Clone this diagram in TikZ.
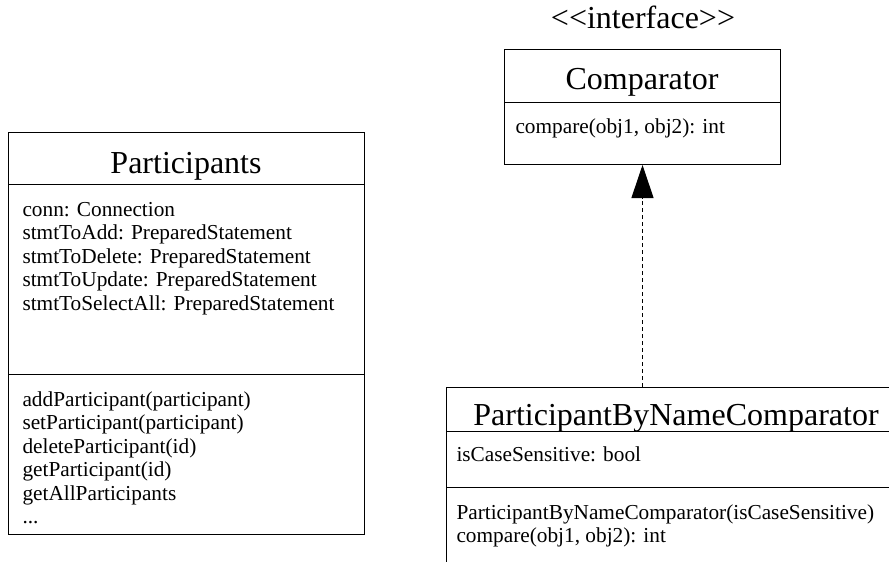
\documentclass[tikz,border=0pt]{standalone}
\usepackage{fontspec}
\setmainfont{Liberation Serif}
\usetikzlibrary{arrows.meta}
\tikzset{realize/.style = {dash pattern=on 4pt off 3pt, -{Triangle[length=33pt,width=22pt]}}}

\begin{document}
\begin{tikzpicture}[x=1pt,y=-1pt,line width=1pt,
  classbox/.style={draw,anchor=north west,inner sep=0pt},
  classname/.style={font=\fontsize{32}{36}\selectfont,inner sep=0pt,anchor=base},
  members/.style={font=\fontsize{21.3}{23.4}\selectfont,align=left,inner sep=0pt,anchor=north west}]
  \useasboundingbox (0,0) rectangle (889,562);
  \clip (0,0) rectangle (889,562);

  % Participants
  \node[classbox,minimum width=356pt,minimum height=402pt] (part) at (8,132) {};
  \draw (8,184) -- (364,184);
  \draw (8,374) -- (364,374);
  \node[classname] (partname) at (186,173) {Participants};
  \node[members] (partattr) at (22,199.6) {\strut conn: Connection\\
    stmtToAdd: PreparedStatement\\
    stmtToDelete: PreparedStatement\\
    stmtToUpdate: PreparedStatement\\
    stmtToSelectAll: PreparedStatement};
  \node[members] (partops) at (22,389.6) {\strut addParticipant(participant)\\
    setParticipant(participant)\\
    deleteParticipant(id)\\
    getParticipant(id)\\
    getAllParticipants\\
    ...};

  % Comparator
  \node[classname] (stereo) at (643,28) {<{}<interface>{}>};
  \node[classbox,minimum width=276pt,minimum height=115pt] (comp) at (504,49) {};
  \draw (504,102) -- (780,102);
  \node[classname] (compname) at (642,89) {Comparator};
  \node[members] (compops) at (515,116.6) {\strut compare(obj1, obj2): int};

  % ParticipantByNameComparator
  \node[classbox,minimum width=460pt,minimum height=240pt] (pbnc) at (446,387) {};
  \draw (446,431) -- (906,431);
  \draw (446,487) -- (906,487);
  \node[classname] (pbncname) at (676,425) {ParticipantByNameComparator};
  \node[members] (pbncattr) at (456,444.6) {\strut isCaseSensitive: bool};
  \node[members] (pbncops) at (456,502.6) {\strut ParticipantByNameComparator(isCaseSensitive)\\
    compare(obj1, obj2): int};

  \draw[realize] (comp.south |- pbnc.north) -- (comp.south);
\end{tikzpicture}
\end{document}
